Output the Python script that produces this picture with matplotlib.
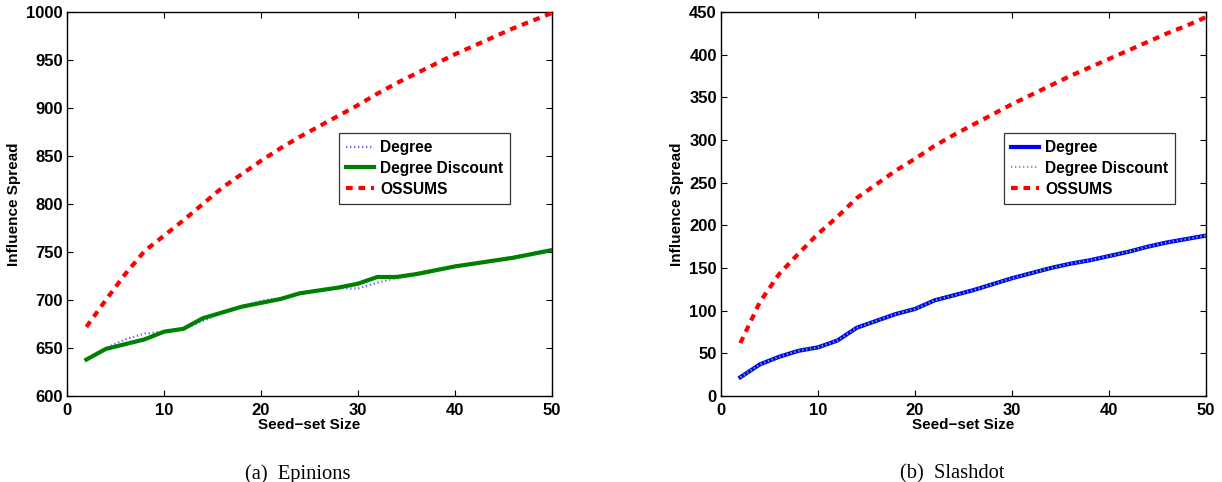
import matplotlib
matplotlib.use("Agg")
import matplotlib.pyplot as plt

plt.rcParams['font.family'] = ['Liberation Sans', 'DejaVu Sans']
plt.rcParams['font.weight'] = 'bold'

seed_sizes = [2, 4, 6, 8, 10, 12, 14, 16, 18, 20, 22, 24, 26, 28, 30,
              32, 34, 36, 38, 40, 42, 44, 46, 48, 50]

# (a) Epinions
epi_degree = [638, 650, 659, 665, 667, 670, 678, 687, 693, 699, 702, 707, 710,
              712, 712, 718, 723, 726, 730, 735, 738, 741, 745, 749, 753]
epi_degree_discount = [638, 649, 654, 659, 667, 670, 681, 687, 693, 697, 701, 707,
                       710, 713, 717, 724, 724, 727, 731, 735, 738, 741, 744, 748, 752]
epi_ossums = [672, 700, 727, 751, 767, 783, 800, 817, 831, 845, 858, 870, 881,
              892, 903, 915, 926, 936, 946, 956, 965, 974, 983, 991, 999]

# (b) Slashdot
sd_degree = [22, 37, 46, 53, 57, 65, 80, 88, 96, 102, 112, 118, 124, 131, 138,
             144, 150, 155, 159, 164, 169, 175, 180, 184, 188]
sd_degree_discount = [22, 37, 46, 53, 57, 65, 80, 88, 96, 102, 112, 118, 124, 131,
                      138, 144, 150, 155, 159, 164, 169, 175, 180, 184, 188]
sd_ossums = [62, 110, 143, 167, 190, 210, 232, 248, 264, 278, 293, 306, 318, 330,
             342, 353, 364, 375, 385, 395, 405, 415, 425, 434, 444]

xticks = [0, 10, 20, 30, 40, 50]
epi_yticks = [600, 650, 700, 750, 800, 850, 900, 950, 1000]
sd_yticks = [0, 50, 100, 150, 200, 250, 300, 350, 400, 450]

W, H = 1222, 482
fig = plt.figure(figsize=(W / 100, H / 100), dpi=100)

ax1 = fig.add_axes([67 / W, 1 - 396 / H, 485 / W, 384 / H])
ax2 = fig.add_axes([721 / W, 1 - 396 / H, 485 / W, 384 / H])

ax1.plot(seed_sizes, epi_degree, color='#6666ff', linestyle=(0, (0.6, 1.2)),
         linewidth=1.6, label='Degree', zorder=2)
ax1.plot(seed_sizes, epi_degree_discount, color='#008000', linestyle='-',
         linewidth=3.0, label='Degree Discount', zorder=3)
ax1.plot(seed_sizes, epi_ossums, color='#ff0000', linestyle=(0, (1.6, 1.4)),
         linewidth=3.0, label='OSSUMS', zorder=4)

ax2.plot(seed_sizes, sd_degree, color='#0000ff', linestyle='-',
         linewidth=3.0, label='Degree', zorder=2)
ax2.plot(seed_sizes, sd_degree_discount, color='#66bb66', linestyle=(0, (0.6, 1.2)),
         linewidth=1.6, label='Degree Discount', zorder=3)
ax2.plot(seed_sizes, sd_ossums, color='#ff0000', linestyle=(0, (1.6, 1.4)),
         linewidth=3.0, label='OSSUMS', zorder=4)

for ax, yt, ylim, leg_anchor, cap in [
        (ax1, epi_yticks, (600, 1000), (0.561, 0.685), '(a)  Epinions'),
        (ax2, sd_yticks, (0, 450), (0.583, 0.685), '(b)  Slashdot')]:
    ax.set_xlim(0, 50)
    ax.set_ylim(*ylim)
    ax.set_xticks(xticks)
    ax.set_yticks(yt)
    ax.tick_params(direction='in', length=4, width=0.8, top=True, right=True,
                   labelsize=12)
    ax.tick_params(axis='y', pad=3)
    ax.tick_params(axis='x', pad=5)
    for s in ax.spines.values():
        s.set_linewidth(1.0)
    ax.set_xlabel('Seed\u2212set Size', fontsize=11, fontweight='bold', labelpad=0)
    ax.set_ylabel('Influence Spread', fontsize=11, fontweight='bold', labelpad=4)
    leg = ax.legend(loc='upper left', bbox_to_anchor=leg_anchor,
                    prop={'weight': 'bold', 'size': 11.2}, frameon=True, fancybox=False,
                    edgecolor='black', handlelength=1.8, handletextpad=0.4,
                    borderpad=0.45, labelspacing=0.38, borderaxespad=0)
    leg.get_frame().set_linewidth(0.9)
    ax.text(0.476, -0.178, cap, transform=ax.transAxes, ha='center', va='top',
            fontsize=14.8, fontweight='normal',
            family=['Liberation Serif', 'DejaVu Serif'])

fig.savefig('out.png', dpi=100)
